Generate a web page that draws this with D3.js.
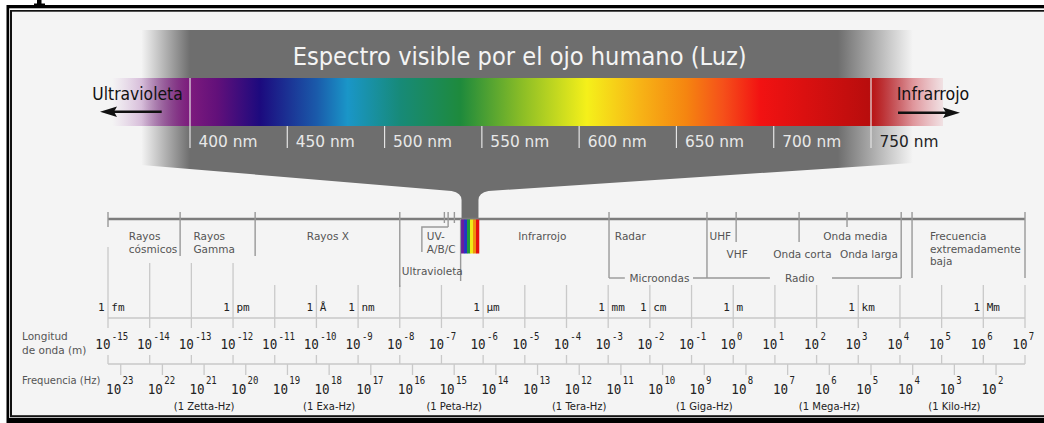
<!DOCTYPE html>
<html><head><meta charset="utf-8">
<script src="https://cdn.jsdelivr.net/npm/d3@7"></script>
<style>html,body{margin:0;padding:0;background:#fff;overflow:hidden}svg{display:block}</style>
</head><body>
<script>
// ---------------- DATA ----------------
const visibleTicksNm = [400, 450, 500, 550, 600, 650, 700, 750];
const spectrumStopsNm = [360, 376, 400, 414, 436, 465, 481, 508, 539, 571, 604, 631, 655, 674, 693, 749, 787];
const spectrumStopColors = ["rgba(170,90,180,0)", "rgba(140,50,150,0.3)", "#7d1a7d", "#62107a", "#1c0a7e", "#1a5aaa",
  "#1a96c8", "#178a78", "#1e8a3c", "#8cbe26", "#f5f01a", "#f7b416", "#f58510", "#f5501a", "#f21212", "#b80d0d", "rgba(210,60,80,0.1)"];

const wavelengthExp = [-15, -14, -13, -12, -11, -10, -9, -8, -7, -6, -5, -4, -3, -2, -1, 0, 1, 2, 3, 4, 5, 6, 7];
const frequencyExp = [23, 22, 21, 20, 19, 18, 17, 16, 15, 14, 13, 12, 11, 10, 9, 8, 7, 6, 5, 4, 3, 2];
const unitLabels = ["1 fm", "1 pm", "1 Å", "1 nm", "1 μm", "1 mm", "1 cm", "1 m", "1 km", "1 Mm"];
const unitExp = [-15, -12, -10, -9, -6, -3, -2, 0, 3, 6];
const prefixLabels = ["(1 Zetta-Hz)", "(1 Exa-Hz)", "(1 Peta-Hz)", "(1 Tera-Hz)", "(1 Giga-Hz)", "(1 Mega-Hz)", "(1 Kilo-Hz)"];
const prefixExp = [21, 18, 15, 12, 9, 6, 3];

// band boundaries, as log10 of wavelength (m)
const boundaryExp = [-15, -13.27, -11.47, -8.0, -6.93, -6.84, -6.69, -6.54, -2.98, -0.63, 0.07, 1.58, 2.73, 4.03, 4.29, 7.0];
const boundaryKind = ["cap", "long", "long", "uvx", "short", "tick", "short", "vis", "deep", "deep", "mid", "mid", "tick", "deep", "deep", "deep"];
const bandNames = [["Rayos", "cósmicos"], ["Rayos", "Gamma"], ["Rayos X"], ["UV-", "A/B/C"], ["Ultravioleta"], ["Infrarrojo"],
  ["Radar"], ["Microondas"], ["UHF"], ["VHF"], ["Onda corta"], ["Onda media"], ["Onda larga"], ["Radio"],
  ["Frecuencia", "extremadamente", "baja"]];
const bandExp = [-14.50, -12.95, -10.23, -7.35, -7.95, -5.16, -2.84, -2.49, -0.57, -0.16, 0.96, 2.16, 2.56, 1.24, 4.72];
const bandRow = [0, 0, 0, 0, 2, 0, 0, 3, 0, 1, 1, 0, 1, 3, 0];
const bracketSegExp = [[-2.98, -2.60], [-0.965, 0.88], [2.37, 4.03]];
const visibleBandExp = [-6.53, -6.10];
const rainbowColors = ["#6a1c9c", "#2632c4", "#1f9a3a", "#f0ea18", "#f0900f", "#e41010"];
const lightSpeedAsDrawn = 2.02e8; // offset of the Hz axis as drawn

// ---------------- SETUP ----------------
const W = 1044, H = 423;
const svg = d3.select("body").append("svg").attr("width", W).attr("height", H);
const defs = svg.append("defs");
const sans = "'DejaVu Sans', Verdana, sans-serif";
const mono = "'DejaVu Sans Mono', monospace";

const sx = d3.scaleLinear().domain([400, 750]).range([190, 871]);
const wl = d3.scaleLog().domain([1e-15, 1e7]).range([108, 1025]);
const wx = e => wl(Math.pow(10, e));
const fx = e => wl(lightSpeedAsDrawn / Math.pow(10, e));

// ---------------- FRAME ----------------
svg.append("rect").attr("width", W).attr("height", H).attr("fill", "#fff");
// glyph fragment peeking above the frame
svg.append("path").attr("d", "M37,0 H41.5 V3.6 H45 V5 H34 V3.6 H37 Z").attr("fill", "#000");
svg.append("rect").attr("x", 6.5).attr("y", 5).attr("width", 1100).attr("height", 430).attr("fill", "#000");
svg.append("rect").attr("x", 9.2).attr("y", 8.3).attr("width", 1100).attr("height", 409.7).attr("fill", "#fff");
svg.append("rect").attr("x", 10).attr("y", 10).attr("width", 1100).attr("height", 407.3).attr("fill", "#111");
svg.append("rect").attr("x", 12).attr("y", 11.7).attr("width", 1100).attr("height", 403.5).attr("fill", "#f4f4f4");

// ---------------- FUNNEL ----------------
const fL = sx(376) - 2, fR = sx(771) + 1;
const gF = defs.append("linearGradient").attr("id", "funnel").attr("gradientUnits", "userSpaceOnUse")
  .attr("x1", fL).attr("x2", fR).attr("y1", 0).attr("y2", 0);
[[0, 0], [(sx(400) - fL) / (fR - fL), 1], [(sx(733) - fL) / (fR - fL), 1], [1, 0]].forEach(([o, a]) =>
  gF.append("stop").attr("offset", o).attr("stop-color", "#6e6e6e").attr("stop-opacity", a));
const stL = wx(visibleBandExp[0]) + 0.5, stR = wx(visibleBandExp[1]) - 0.5;
const fp = d3.path();
fp.moveTo(fL, 30); fp.lineTo(fR, 30); fp.lineTo(fR, 163);
fp.lineTo(stR + 10, 191); fp.quadraticCurveTo(stR, 193, stR, 200); fp.lineTo(stR, 219);
fp.lineTo(stL, 219); fp.lineTo(stL, 200); fp.quadraticCurveTo(stL, 193, stL - 10, 191);
fp.lineTo(fL, 165); fp.closePath();
svg.append("path").attr("d", fp.toString()).attr("fill", "url(#funnel)");

// ---------------- SPECTRUM BAR ----------------
const x0 = sx(spectrumStopsNm[0]), x1 = sx(spectrumStopsNm[spectrumStopsNm.length - 1]);
const gS = defs.append("linearGradient").attr("id", "spec").attr("gradientUnits", "userSpaceOnUse")
  .attr("x1", x0).attr("x2", x1).attr("y1", 0).attr("y2", 0);
spectrumStopsNm.forEach((nm, i) => gS.append("stop").attr("offset", (sx(nm) - x0) / (x1 - x0)).attr("stop-color", spectrumStopColors[i]));
svg.append("rect").attr("x", x0).attr("y", 78).attr("width", x1 - x0).attr("height", 48).attr("fill", "url(#spec)");

svg.append("g").selectAll("line").data(visibleTicksNm).join("line")
  .attr("x1", d => sx(d)).attr("x2", d => sx(d))
  .attr("y1", d => (d === 400 || d === 750) ? 78 : 126).attr("y2", 148)
  .attr("stroke", "#e4e4e4").attr("stroke-width", 1.2);
svg.append("g").selectAll("text").data(visibleTicksNm).join("text")
  .attr("x", d => sx(d) + 8.5).attr("y", 146.5)
  .attr("font-family", sans).attr("font-size", 16).attr("textLength", 59).attr("lengthAdjust", "spacingAndGlyphs")
  .attr("fill", d => d >= 750 ? "#222" : "#e8e8e8").text(d => d + " nm");

svg.append("text").attr("x", 519.7).attr("y", 65).attr("text-anchor", "middle")
  .attr("font-family", sans).attr("font-size", 24).attr("textLength", 454).attr("lengthAdjust", "spacingAndGlyphs")
  .attr("fill", "#f4f4f4").text("Espectro visible por el ojo humano (Luz)");

svg.append("text").attr("x", 92.3).attr("y", 100).attr("font-family", sans).attr("font-size", 18)
  .attr("textLength", 90.4).attr("lengthAdjust", "spacingAndGlyphs").attr("fill", "#111").text("Ultravioleta");
svg.append("text").attr("x", 896.7).attr("y", 100).attr("font-family", sans).attr("font-size", 18)
  .attr("textLength", 72.6).attr("lengthAdjust", "spacingAndGlyphs").attr("fill", "#111").text("Infrarrojo");
// arrows
svg.append("line").attr("x1", 112).attr("x2", 161.7).attr("y1", 111.8).attr("y2", 111.8).attr("stroke", "#111").attr("stroke-width", 2.6);
svg.append("path").attr("d", "M100,111.8 L117,106.5 L114,111.8 L117,117 Z").attr("fill", "#111");
svg.append("line").attr("x1", 898).attr("x2", 948).attr("y1", 112.7).attr("y2", 112.7).attr("stroke", "#111").attr("stroke-width", 2.6);
svg.append("path").attr("d", "M960,112.7 L943,107.4 L946,112.7 L943,118 Z").attr("fill", "#111");

// ---------------- LOWER DIAGRAM ----------------
const low = svg.append("g");
// grid lines at decades
low.append("g").selectAll("line").data(wavelengthExp).join("line")
  .attr("x1", d => wx(d)).attr("x2", d => wx(d))
  .attr("y1", d => d === -15 ? 247 : (d <= -12 ? 263 : 285)).attr("y2", 328)
  .attr("stroke", "#c9c9c9").attr("stroke-width", 1.3);
low.append("line").attr("x1", wx(-15)).attr("x2", wx(7)).attr("y1", 318).attr("y2", 318).attr("stroke", "#c9c9c9").attr("stroke-width", 1.5);
low.append("line").attr("x1", wx(-15)).attr("x2", wx(7)).attr("y1", 364).attr("y2", 364).attr("stroke", "#c9c9c9").attr("stroke-width", 1.5);
low.append("g").selectAll("line").data(wavelengthExp).join("line")
  .attr("x1", d => wx(d)).attr("x2", d => wx(d)).attr("y1", 355).attr("y2", 364)
  .attr("stroke", "#c9c9c9").attr("stroke-width", 1.3);
low.append("g").selectAll("line").data(frequencyExp).join("line")
  .attr("x1", d => fx(d)).attr("x2", d => fx(d)).attr("y1", 364).attr("y2", 375)
  .attr("stroke", "#c9c9c9").attr("stroke-width", 1.3);

// main line and boundaries
low.append("line").attr("x1", wx(-15)).attr("x2", wx(7)).attr("y1", 219).attr("y2", 219).attr("stroke", "#7c7c7c").attr("stroke-width", 2.5);
const kindY = { cap: [212, 227], long: [212, 256], uvx: [212, 287], short: [212, 223], tick: [212, 227], vis: [219, 281], deep: [212, 278], mid: [212, 242] };
low.append("g").selectAll("line").data(boundaryExp).join("line")
  .attr("x1", d => wx(d)).attr("x2", d => wx(d))
  .attr("y1", (d, i) => kindY[boundaryKind[i]][0]).attr("y2", (d, i) => kindY[boundaryKind[i]][1])
  .attr("stroke", "#999").attr("stroke-width", 1.4);
low.append("g").selectAll("line").data(bracketSegExp).join("line")
  .attr("x1", d => wx(d[0])).attr("x2", d => wx(d[1])).attr("y1", 278).attr("y2", 278)
  .attr("stroke", "#999").attr("stroke-width", 1.4);
low.append("path").attr("d", `M${wx(-7.47)},252 V227 H${wx(-6.84)}`).attr("fill", "none").attr("stroke", "#999").attr("stroke-width", 1.4);

// rainbow
const rbX = d3.scaleBand().domain(d3.range(rainbowColors.length)).range([wx(visibleBandExp[0]), wx(visibleBandExp[1])]);
low.append("g").selectAll("rect").data(rainbowColors).join("rect")
  .attr("x", (d, i) => rbX(i)).attr("width", rbX.bandwidth() + 0.3).attr("y", 219.5).attr("height", 34).attr("fill", d => d);

// band labels
const rowY = [240, 258, 275, 282];
const bl = low.append("g").attr("font-family", sans).attr("font-size", 10.5).attr("fill", "#555");
bandNames.forEach((lines, i) => {
  const t = bl.append("text").attr("x", wx(bandExp[i])).attr("y", rowY[bandRow[i]]);
  lines.forEach((s, j) => t.append("tspan").attr("x", wx(bandExp[i])).attr("dy", j === 0 ? 0 : 12.5).text(s));
});

// unit labels (break grid lines with halo)
low.append("g").selectAll("text").data(unitLabels).join("text")
  .attr("x", (d, i) => wx(unitExp[i]) - 9.9).attr("y", 311)
  .attr("font-family", mono).attr("font-size", 11).attr("fill", "#222")
  .attr("stroke", "#f4f4f4").attr("stroke-width", 5).attr("paint-order", "stroke").attr("stroke-linejoin", "round")
  .text(d => d);

// axis titles
const at = low.append("g").attr("font-family", sans).attr("font-size", 10.5).attr("fill", "#555");
const lt = at.append("text").attr("x", 22).attr("y", 340);
lt.append("tspan").attr("x", 22).text("Longitud");
lt.append("tspan").attr("x", 22).attr("dy", 14).text("de onda (m)");
at.append("text").attr("x", 22).attr("y", 384).attr("font-size", 10).text("Frequencia (Hz)");

// power-of-ten labels
function powLabel(parent, x, baseY, supY, exp) {
  const g = parent.append("g").attr("transform", `translate(${x},0) scale(0.9,1)`);
  g.append("text").attr("x", 0).attr("y", baseY).attr("text-anchor", "end").attr("font-size", 14).text("10");
  g.append("text").attr("x", 1.5).attr("y", supY).attr("text-anchor", "start").attr("font-size", 10).text(String(exp));
}
const pl = low.append("g").attr("font-family", mono).attr("fill", "#222");
wavelengthExp.forEach(e => powLabel(pl, wx(e) + 2.5, 349, 340, e));
frequencyExp.forEach(e => powLabel(pl, fx(e) + 0.5, 394, 384, e));

low.append("g").selectAll("text").data(prefixLabels).join("text")
  .attr("x", (d, i) => fx(prefixExp[i])).attr("y", 410).attr("text-anchor", "middle")
  .attr("font-family", sans).attr("font-size", 10).attr("fill", "#222").text(d => d);
</script>
</body></html>
